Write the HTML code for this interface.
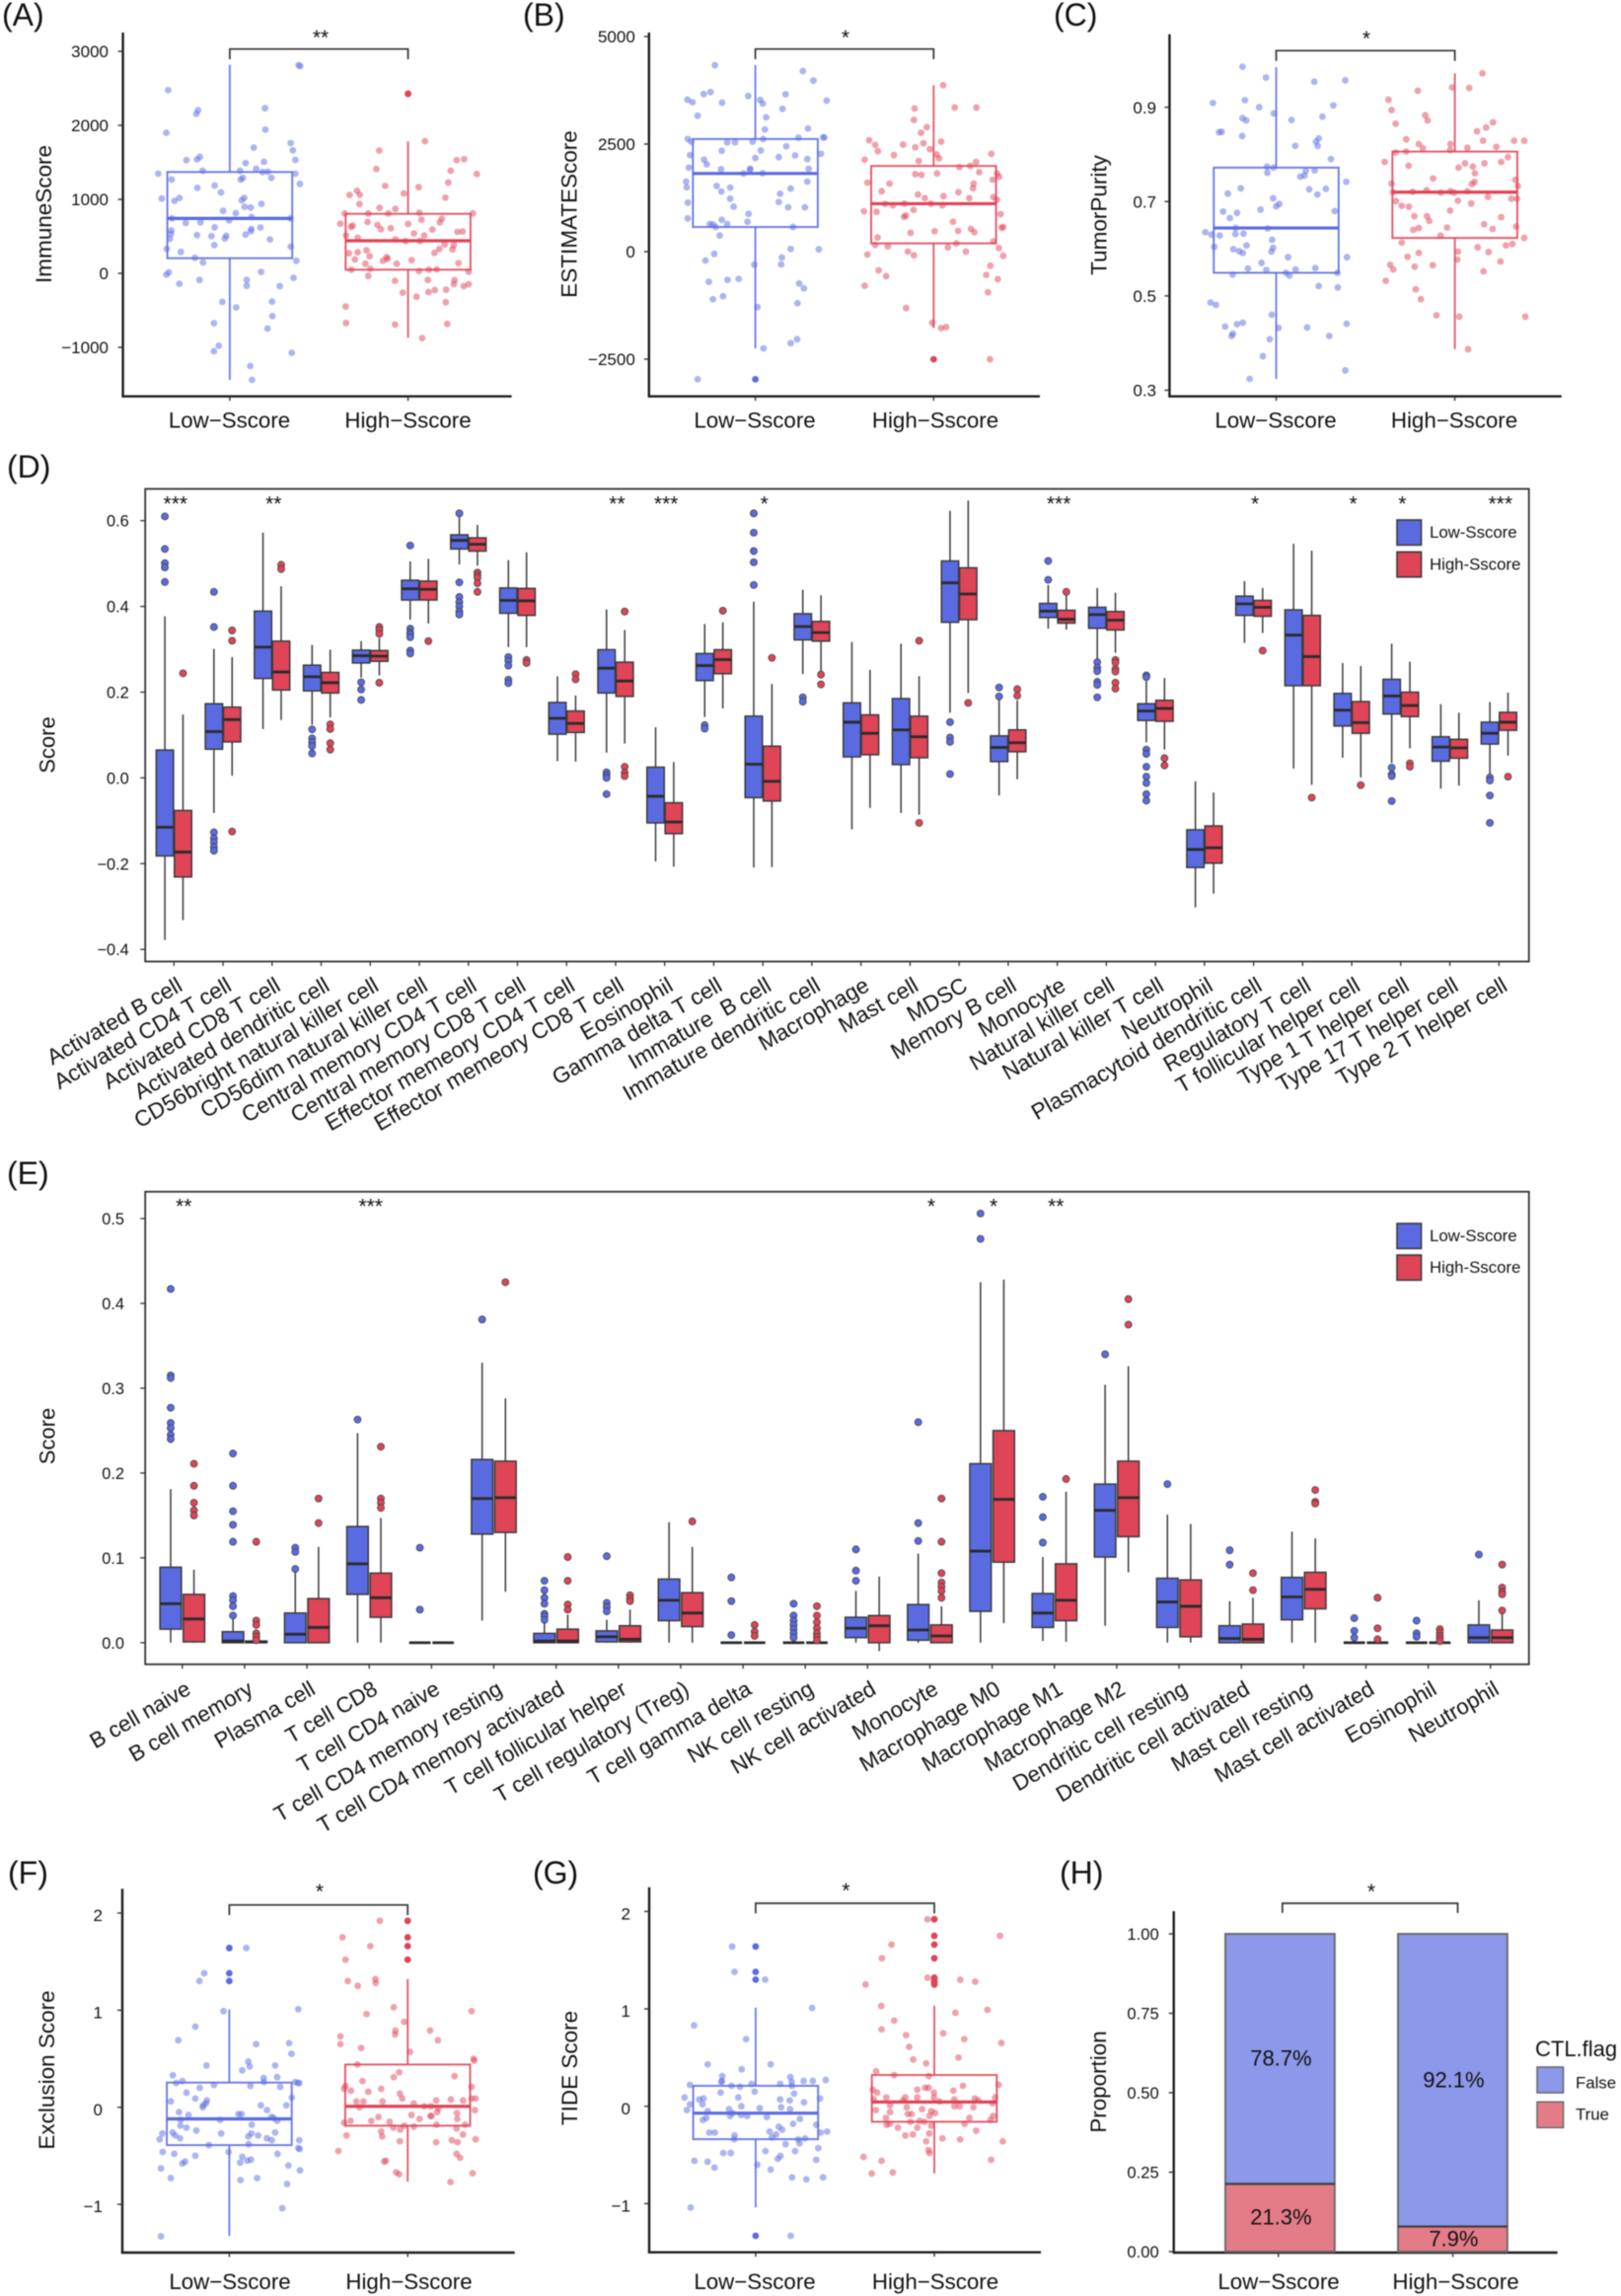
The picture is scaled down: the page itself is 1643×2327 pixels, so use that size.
<!DOCTYPE html>
<html lang="en">
<head>
<meta charset="utf-8">
<title>Immune score comparison panels</title>
<style>
html,body{margin:0;padding:0;background:#fff}
svg{display:block;filter:blur(0.4px)}
text{font-family:"Liberation Sans",sans-serif;fill:#111;white-space:pre}
</style>
</head>
<body>
<svg id="figure" xmlns="http://www.w3.org/2000/svg" width="1643" height="2327" viewBox="0 0 1643 2327">
<rect x="0" y="0" width="1643" height="2327" fill="#fff"/>
<text x="2" y="26" font-size="32">(A)</text>
<text x="530" y="26" font-size="32">(B)</text>
<text x="1068" y="26" font-size="32">(C)</text>
<text x="7" y="484" font-size="32">(D)</text>
<text x="7" y="1200" font-size="32">(E)</text>
<text x="8" y="1909" font-size="32">(F)</text>
<text x="540" y="1909" font-size="32">(G)</text>
<text x="1074" y="1909" font-size="32">(H)</text>
<g id="panel-a"></g>
<g id="panel-b"></g>
<g id="panel-c"></g>
<g id="panel-d"></g>
<g id="panel-e"></g>
<g id="panel-f"></g>
<g id="panel-g"></g>
<g id="panel-h"></g>
</svg>
<script>
const groupNames = ['Low\u2212Sscore','High\u2212Sscore'];

/* ---------- Panel A ---------- */
const aTicks = [3000,2000,1000,0,-1000];
const aTickLabels = ['3000','2000','1000','0','\u22121000'];
const aLowValues = [2475,2204,2155,2231,1898,1942,1698,1760,1662,2813,2800,1573,1538,1529,1533,1507,1489,1387,1387,1413,1369,1373,1347,1347,1267,1289,1267,1289,1209,1187,1155,1093,1009,978,1018,1018,987,938,898,889,844,813,742,760,742,715,680,689,622,618,600,569,578,533,467,516,502,507,471,524,458,382,360,329,289,209,147,169,13,-18,18,-142,-89,-89,-169,-62,-173,-387,-382,-462,-578,-675,-747,-978,-1053,-1075,-1253,-1440];
const aLowJitter = [-175,-90,-95,100,-180,101,68,173,179,195,200,-85,-93,-123,186,97,45,-77,29,75,93,108,186,-203,-165,37,31,118,199,-43,-92,-25,-193,-157,-143,41,34,90,42,59,-19,17,-164,62,172,-2,-125,-83,-43,87,61,60,-166,-167,-170,-93,-52,-10,-14,45,114,-44,173,-179,-139,-99,-76,189,-173,-180,89,-143,-86,48,48,181,142,-21,120,18,121,-45,107,-31,-45,176,58,63];
const aHighValues = [2426,1787,1658,1409,1529,1542,1387,1342,1227,1182,1164,1115,1058,1062,1080,1022,938,884,871,809,809,809,818,809,724,738,693,689,671,667,644,627,653,596,609,591,538,511,560,564,511,480,458,436,436,329,391,382,311,324,271,284,276,231,218,196,169,187,178,129,129,138,62,49,31,49,53,22,-36,-102,-89,-93,-147,-147,-173,-222,-227,-253,-262,-316,-391,-449,-671,-693,-684,-875];
const aHighJitter = [0,48,-82,-90,138,159,121,195,114,-65,30,-145,-166,-137,-12,106,-138,-81,-36,-180,-113,-56,32,184,38,96,-115,90,-192,0,-157,-162,-87,-77,-49,69,17,46,140,155,-176,-143,-36,-7,34,89,104,130,-118,126,-168,-143,75,-109,-61,-58,-71,-151,10,-121,-32,143,-107,-161,31,59,81,172,-113,-37,56,132,130,172,158,108,76,58,-15,24,107,-177,-176,-37,111,40];
const aLowBox = [2817,1369,742,204,-1440];
const aHighBox = [1782,804,440,49,-871];
const aLowOutliers = [];
const aHighOutliers = [2426];

/* ---------- Panel B ---------- */
const bTicks = [5000,2500,0,-2500];
const bTickLabels = ['5000','2500','0','\u22122500'];
const bLowValues = [4334,4197,3975,3708,3662,3655,3617,3533,3472,3525,3441,3464,3510,3319,3159,3121,2838,2861,2617,2556,2541,2541,2556,2617,2648,2655,2655,2449,2342,2350,2243,2197,2236,2274,2175,2136,2152,2030,1953,1915,1930,1900,1923,1816,1824,1625,1625,1495,1526,1488,1465,1396,1343,1228,1137,1152,1045,1030,1030,877,771,740,694,641,626,641,572,572,374,61,53,-53,-137,-206,-305,-298,-656,-633,-702,-740,-855,-1038,-1106,-1198,-1289,-2037,-2129,-2251,-2968];
const bLowJitter = [-119,140,171,-132,-152,89,-21,-200,-185,14,22,-98,210,80,-170,32,28,155,-199,-189,-83,-60,-8,23,127,200,203,91,-99,16,-192,69,117,193,0,-151,153,-143,-196,-101,-15,-16,157,-35,21,-204,153,-202,-114,-74,104,-100,73,-74,-199,69,-64,97,146,-20,-199,-99,-23,-134,-125,-83,-117,111,-105,104,187,-121,78,-147,-3,76,-82,-49,-137,129,143,-95,-125,124,6,123,104,24,-170];
const bHighValues = [3868,3350,3350,3327,3060,2892,2762,2587,2480,2487,2518,2556,2426,2381,2335,2243,2274,2258,2167,2136,2106,2083,1991,1961,1846,1801,1785,1816,1816,1740,1671,1602,1579,1579,1473,1404,1381,1328,1244,1289,1244,1267,1206,1106,1076,1114,1114,1076,969,938,923,870,839,809,694,526,481,557,572,435,473,450,328,237,153,122,99,191,84,0,0,-69,-84,-99,-328,-435,-572,-542,-641,-794,-946,-1312,-1656,-1755,-1778,-2503];
const bHighJitter = [28,62,126,-56,-58,-20,-37,-190,-172,-90,-30,22,-54,-11,-164,-117,170,9,16,-203,-44,125,108,76,134,-54,-36,10,187,193,174,-195,-130,118,116,-153,73,-46,-26,29,105,176,187,-143,-120,-86,-8,26,-59,-205,-168,197,-82,-87,57,110,72,200,205,-68,3,120,-165,176,-172,-135,42,67,192,-76,95,-195,-58,205,167,-162,-140,155,189,-203,160,-81,-4,37,22,166];
const bLowBox = [4334,2617,1816,572,-2251];
const bHighBox = [3868,1991,1114,191,-1778];
const bLowOutliers = [-2968];
const bHighOutliers = [-2503];

/* ---------- Panel C ---------- */
const cTicks = [0.9,0.7,0.5,0.3];
const cTickLabels = ['0.9','0.7','0.5','0.3'];
const cLowValues = [.986,.963,.954,.957,.915,.909,.900,.904,.887,.877,.872,.880,.873,.847,.848,.839,.834,.827,.818,.818,.790,.774,.772,.765,.766,.761,.755,.753,.742,.728,.717,.726,.715,.727,.707,.695,.690,.683,.679,.676,.680,.665,.644,.643,.635,.630,.628,.631,.632,.619,.604,.607,.602,.599,.595,.591,.594,.582,.582,.570,.558,.555,.556,.559,.545,.549,.543,.549,.521,.518,.486,.481,.460,.443,.440,.435,.441,.432,.433,.420,.415,.415,.408,.372,.342,.324];
const cLowJitter = [-99,-30,112,203,-92,-186,-50,168,-7,-99,-88,136,45,-168,-160,-100,125,117,122,56,161,-27,-8,87,113,-26,83,71,206,-104,-142,97,121,146,-9,9,0,-46,-156,-115,172,-136,-119,-25,-208,-190,-166,-120,-96,-12,-182,-87,-9,-126,-109,-98,-14,35,208,-43,-83,-29,57,115,-128,29,39,180,125,181,-193,-177,-13,-98,-115,-150,207,7,91,-127,-131,156,-19,-39,203,-78];
const cHighValues = [.972,.935,.942,.941,.916,.894,.865,.883,.872,.868,.857,.849,.832,.829,.829,.829,.822,.822,.813,.809,.814,.816,.804,.806,.784,.776,.772,.781,.774,.781,.784,.794,.760,.749,.742,.737,.746,.738,.733,.720,.721,.724,.719,.722,.719,.722,.710,.701,.702,.706,.706,.696,.691,.689,.681,.669,.669,.659,.667,.652,.642,.647,.640,.644,.645,.628,.623,.613,.610,.607,.603,.593,.594,.591,.583,.577,.573,.566,.556,.562,.565,.552,.532,.514,.493,.459,.456,.456,.387];
const cHighJitter = [81,-109,-8,42,-195,-186,-174,-87,-80,112,92,65,-143,83,174,204,-106,-13,-94,-14,37,122,-174,-143,-206,-136,11,30,53,87,136,156,59,-64,58,50,178,-186,185,-182,-124,-83,-41,-13,-2,37,97,-173,9,166,183,48,-156,-135,-14,-119,-82,-75,136,86,111,180,-122,-106,-23,-42,204,-156,169,150,67,99,9,-106,-139,7,134,-190,-181,-118,-65,84,-203,-115,-100,-54,13,207,39];
const cLowBox = [.985,.772,.644,.549,.324];
const cHighBox = [.972,.806,.720,.623,.387];
const cLowOutliers = [];
const cHighOutliers = [];

/* ---------- Panel F ---------- */
const fTicks = [2,1,0,-1];
const fTickLabels = ['2','1','0','\u22121'];
const fLowValues = [1.64,1.38,1.30,.99,1.01,.83,.69,.65,.66,.55,.47,.43,.43,.42,.38,.33,.30,.31,.27,.25,.26,.26,.25,.25,.23,.22,.20,.21,.15,.10,.09,.07,.06,.04,.02,0,.02,.02,-.03,-.05,-.08,-.07,-.07,-.10,-.13,-.13,-.11,-.14,-.19,-.21,-.18,-.24,-.27,-.26,-.27,-.27,-.30,-.29,-.26,-.29,-.32,-.33,-.32,-.34,-.34,-.39,-.38,-.42,-.43,-.46,-.46,-.48,-.48,-.50,-.51,-.57,-.55,-.54,-.56,-.58,-.60,-.63,-.65,-.73,-.73,-.75,-.79,-1.04,-1.33];
const fLowJitter = [50,-74,-88,-17,203,-100,-150,79,176,183,56,-67,135,60,38,-166,101,141,-138,-156,102,194,202,206,-45,62,-87,150,-126,184,-100,-66,-172,-69,-77,-78,93,168,111,-148,-120,27,36,124,-143,-27,131,141,-144,-126,66,-97,-197,-167,-24,65,56,85,135,-159,-145,-205,111,125,206,-60,57,203,207,-196,-2,-162,142,-100,38,32,53,64,-130,-138,174,-201,208,-172,82,33,170,156,-201];
const fHighValues = [1.92,1.75,1.66,1.52,1.30,1.32,1.28,1.25,1.03,.96,.99,.88,.79,.75,.79,.73,.65,.69,.61,.57,.50,.48,.44,.31,.36,.32,.27,.22,.19,.17,.16,.19,.14,.21,.09,.06,.06,.06,.04,.07,.08,.07,.09,.09,0,.01,.01,-.01,-.05,-.06,-.03,-.10,-.08,-.09,-.09,-.12,-.12,-.16,-.14,-.14,-.15,-.18,-.18,-.21,-.23,-.19,-.20,-.22,-.25,-.30,-.29,-.28,-.35,-.36,-.34,-.36,-.33,-.45,-.48,-.52,-.56,-.55,-.67,-.69,-.68,-.77];
const fHighJitter = [-82,-192,-110,-183,-176,-95,-94,-147,-41,-121,188,-10,-36,-37,66,-198,-198,89,-137,7,194,196,-148,-41,-25,138,-133,-183,-187,-167,-116,-78,-23,188,-16,-151,-130,-74,18,84,127,163,188,200,-142,49,68,90,87,145,198,-86,11,67,70,35,146,-187,-168,-107,-53,85,169,-42,-22,-10,18,144,-78,-75,-180,163,-23,84,130,147,200,-204,144,154,-69,-64,-34,-25,191,126];
const fLowBox = [1.007,.254,-.12,-.39,-1.325];
const fHighBox = [1.32,.44,.01,-.19,-.766];
const fLowOutliers = [1.64,1.38,1.30];
const fHighOutliers = [1.92,1.75,1.66,1.52];

/* ---------- Panel G ---------- */
const gTicks = [2,1,0,-1];
const gTickLabels = ['2','1','0','\u22121'];
const gLowValues = [1.64,1.38,1.30,1.01,.83,.69,.43,.43,.38,.31,.30,.26,.25,.25,.26,.26,.27,.22,.23,.23,.21,.20,.21,.13,.14,.15,.09,.09,.07,.08,.07,.06,.04,.08,.02,.02,0,-.01,-.02,-.04,-.05,-.03,-.03,-.07,-.09,-.10,-.10,-.11,-.12,-.14,-.13,-.18,-.19,-.21,-.27,-.27,-.24,-.26,-.27,-.26,-.30,-.29,-.32,-.34,-.34,-.33,-.38,-.39,-.43,-.48,-.48,-.46,-.46,-.51,-.54,-.56,-.57,-.55,-.63,-.60,-.65,-.73,-.73,-.75,-1.04,-1.33];
const gLowJitter = [-69,-62,28,166,-181,-28,-141,44,-41,-98,102,-99,-101,106,141,168,206,-193,-12,72,-71,-46,106,113,-103,-3,-209,-51,-166,-153,72,100,142,189,-193,-156,-42,75,12,-202,-141,-78,101,-68,-43,-25,-75,33,-145,-155,130,110,178,68,-136,-120,78,41,191,210,-62,60,48,-63,125,145,129,88,184,-95,-73,29,116,73,65,-180,-141,178,-121,5,44,107,198,149,-191,103];
const gHighValues = [1.92,1.75,1.66,1.52,1.32,1.30,1.28,1.25,1.03,.99,.96,.88,.79,.75,.73,.69,.65,.61,.50,.48,.44,.36,.32,.31,.22,.21,.17,.14,.17,.19,.19,.16,.14,.09,.09,.09,.09,.09,.06,.05,.07,.08,.06,.07,-.01,.01,0,0,-.01,.03,-.03,-.04,-.06,-.07,-.05,-.08,-.08,-.10,-.12,-.12,-.10,-.14,-.16,-.15,-.16,-.19,-.18,-.18,-.20,-.22,-.22,-.25,-.28,-.30,-.29,-.33,-.34,-.36,-.36,-.45,-.48,-.52,-.56,-.55,-.69,-.68];
const gHighJitter = [-20,193,-126,-154,-20,76,120,-202,-156,156,62,-118,-155,26,-83,88,197,-74,71,-62,-24,-171,-118,-16,189,84,-181,-168,-50,-27,-17,56,-1,-141,-85,-50,-1,179,-92,15,59,119,129,-178,-81,-130,59,74,115,171,-36,-172,-130,2,-9,-78,-67,-14,-142,103,173,165,-70,-43,-29,-140,-131,89,-9,-107,-50,123,-15,-85,-63,24,76,-24,201,-17,-14,-208,-155,167,-184,-122];
const gLowBox = [1.012,.21,-.071,-.338,-1.039];
const gHighBox = [1.032,.321,.044,-.159,-.69];
const gLowOutliers = [1.64,1.38,1.30,-1.33];
const gHighOutliers = [1.92,1.75,1.66,1.52,1.32,1.30,1.28,1.27,1.25];

/* ---------- Panel D ---------- */
const dCategories = ['Activated B cell','Activated CD4 T cell','Activated CD8 T cell','Activated dendritic cell','CD56bright natural killer cell','CD56dim natural killer cell','Central memory CD4 T cell','Central memory CD8 T cell','Effector memeory CD4 T cell','Effector memeory CD8 T cell','Eosinophil','Gamma delta T cell','Immature  B cell','Immature dendritic cell','Macrophage','Mast cell','MDSC','Memory B cell','Monocyte','Natural killer cell','Natural killer T cell','Neutrophil','Plasmacytoid dendritic cell','Regulatory T cell','T follicular helper cell','Type 1 T helper cell','Type 17 T helper cell','Type 2 T helper cell'];
const dTicks = [0.6,0.4,0.2,0,-0.2,-0.4];
const dTickLabels = ['0.6','0.4','0.2','0.0','\u22120.2','\u22120.4'];
const dStars = ['***','','**','','','','','','','**','***','','*','','','','','','***','','','','*','','*','*','','***'];
/* each row: upper whisker, q3, median, q1, lower whisker */
const dLowStats = [[.377,.065,-.115,-.182,-.378],[.301,.173,.108,.067,-.082],[.572,.389,.305,.232,.114],[.310,.263,.236,.203,.124],[.319,.298,.285,.268,.234],[.505,.461,.441,.415,.369],[.608,.567,.554,.534,.498],[.508,.443,.414,.384,.305],[.237,.176,.139,.102,.039],[.393,.299,.256,.198,.059],[.118,.025,-.043,-.105,-.195],[.359,.290,.262,.227,.142],[.411,.144,.032,-.046,-.209],[.439,.383,.353,.322,.242],[.317,.175,.130,.049,-.120],[.313,.185,.112,.031,-.082],[.623,.506,.455,.363,.152],[.182,.098,.071,.038,-.041],[.450,.407,.389,.374,.348],[.443,.398,.381,.349,.276],[.226,.173,.156,.134,.083],[-.008,-.121,-.167,-.209,-.302],[.459,.424,.406,.379,.315],[.546,.392,.333,.215,.022],[.268,.197,.158,.121,.047],[.313,.230,.191,.149,.035],[.172,.096,.072,.039,-.025],[.177,.130,.104,.079,.008]];
const dHighStats = [[.148,-.076,-.173,-.231,-.332],[.282,.165,.136,.084,.005],[.447,.319,.247,.205,.135],[.299,.246,.222,.198,.141],[.326,.297,.284,.272,.239],[.511,.459,.440,.415,.360],[.590,.560,.545,.529,.495],[.526,.442,.413,.379,.305],[.192,.156,.127,.106,.038],[.345,.270,.226,.190,.080],[.037,-.058,-.103,-.130,-.207],[.363,.299,.276,.243,.162],[.219,.074,-.008,-.054,-.208],[.426,.365,.339,.319,.249],[.252,.147,.104,.054,-.070],[.237,.144,.096,.047,-.086],[.647,.490,.429,.369,.198],[.181,.112,.082,.061,-.003],[.426,.391,.370,.361,.346],[.432,.388,.368,.345,.292],[.233,.181,.162,.132,.066],[-.034,-.112,-.163,-.199,-.270],[.443,.414,.398,.377,.338],[.530,.379,.283,.215,-.016],[.261,.178,.129,.104,.001],[.271,.200,.169,.143,.069],[.152,.090,.070,.046,-.018],[.199,.153,.130,.111,.052]];
const dLowOutliers = [[.610,.534,.501,.491,.457],[.434,.352,-.127,-.141,-.150,-.161,-.170],[],[.113,.092,.083,.074,.057],[.223,.206,.182],[.542,.348,.339,.335,.328,.297,.290],[.617,.456,.422,.410,.400,.388,.381],[.282,.273,.262,.229,.221],[],[.013,.006,0,-.038],[],[.123,.115],[.617,.572,.529,.503,.450],[.188,.178],[],[],[.130,.094,.084,.009],[.211,.190],[.506,.462],[.270,.257,.249,.224,.217,.188],[.239,.235,.066,.056,.026,.003,-.012,-.038,-.053],[],[],[],[],[.024,.008,.004,-.054],[],[.001,-.006,-.041,-.105]];
const dHighOutliers = [[.244],[.344,.320,-.125],[.497,.487],[.125,.114,.081,.066],[.352,.345,.336,.222],[.319],[.479,.473,.467,.454,.434],[.275,.268],[.242,.230],[.388,.026,.012,.004],[],[.390],[.280],[.241,.218],[],[.320,-.105],[.175],[.207,.192],[.434],[.275,.269,.254,.248,.222,.208],[.046,.029],[],[.297],[-.046],[-.017],[.034,.026],[],[.003]];

/* ---------- Panel E ---------- */
const eCategories = ['B cell naive','B cell memory','Plasma cell','T cell CD8','T cell CD4 naive','T cell CD4 memory resting','T cell CD4 memory activated','T cell follicular helper','T cell regulatory (Treg)','T cell gamma delta','NK cell resting','NK cell activated','Monocyte','Macrophage M0','Macrophage M1','Macrophage M2','Dendritic cell resting','Dendritic cell activated','Mast cell resting','Mast cell activated','Eosinophil','Neutrophil'];
const eTicks = [0.5,0.4,0.3,0.2,0.1,0];
const eTickLabels = ['0.5','0.4','0.3','0.2','0.1','0.0'];
const eStars = ['**','','','***','','','','','','','','','*','*','**','','','','','','',''];
const eLowStats = [[.181,.089,.046,.016,0],[.029,.013,.002,0,0],[.084,.035,.010,0,0],[.247,.137,.093,.057,0],[0,0,0,0,0],[.330,.216,.170,.128,.026],[.026,.011,.002,0,0],[.027,.014,.007,.001,0],[.142,.075,.050,.026,0],[0,0,0,0,0],[0,0,0,0,0],[.061,.030,.017,.006,0],[.105,.045,.015,.003,0],[.425,.211,.108,.037,0],[.101,.058,.035,.018,.002],[.304,.187,.156,.101,.020],[.151,.076,.048,.018,0],[.049,.020,.005,0,0],[.131,.077,.054,.027,0],[0,0,0,0,0],[0,0,0,0,0],[.050,.021,.006,0,0]];
const eHighStats = [[.086,.057,.028,.001,0],[.002,.002,.001,0,0],[.113,.052,.018,0,0],[.147,.082,.053,.030,0],[0,0,0,0,0],[.288,.214,.171,.130,.060],[.033,.016,.002,0,0],[.039,.020,.004,.001,0],[.113,.059,.035,.019,0],[0,0,0,0,0],[0,0,0,0,0],[.078,.032,.020,0,-.010],[.043,.021,.008,0,0],[.428,.250,.169,.095,.023],[.178,.093,.050,.026,.001],[.326,.214,.171,.125,.083],[.140,.074,.043,.007,0],[.053,.022,.004,0,0],[.123,.083,.063,.040,0],[0,0,0,0,0],[0,0,0,0,0],[.035,.015,.006,0,0]];
const eLowOutliers = [[.417,.315,.312,.277,.259,.253,.245,.240],[.223,.185,.155,.139,.119,.055,.050,.043,.032],[.112,.107,.087],[.263],[.112,.039],[.381],[.073,.062,.053,.046,.034,.031,.027],[.102,.047,.042,.037],[],[.077,.049,.009],[.046,.032,.026,.021,.016,.011,.006],[.110,.085,.073],[.260,.141,.120],[.506,.476],[.172,.148,.118],[.340],[.187],[.109,.092],[],[.029,.014,.006],[.026,.011,.007],[.104]];
const eHighOutliers = [[.211,.185,.165,.156,.150],[.119,.026,.021,.011,.007,.003],[.170,.141],[.231,.170,.165,.159],[],[.425],[.101,.073,.045,.039],[.056,.052,.049],[.143],[.021,.013,.008],[.043,.032,.024,.017,.011,.007,.003],[],[.170,.119,.082,.071,.066,.061,.053],[],[.193],[.405,.375],[],[.082,.062],[.180,.166,.164],[.053,.017,.004],[.016,.012,.008,.005,.002],[.092,.065,.060,.057,.038]];

/* ---------- Panel H ---------- */
const hTicks = [1,0.75,0.5,0.25,0];
const hTickLabels = ['1.00','0.75','0.50','0.25','0.00'];
const hFalseShare = [0.787,0.921];
const hTrueShare = [0.213,0.079];
const hFalseText = ['78.7%','92.1%'];
const hTrueText = ['21.3%','7.9%'];

/* ---------- helpers ---------- */
const NS = 'http://www.w3.org/2000/svg';
const BLUE = '#5A6BE2', RED = '#DF4457', DARK = '#3a3a3a';
function make(tag, parent, geom) {
  const el = document.createElementNS(NS, tag);
  for (const k in geom) el.setAttribute(k, geom[k]);
  parent.appendChild(el);
  return el;
}
function linear(d0, r0, d1, r1) {
  return v => r0 + (v - d0) * (r1 - r0) / (d1 - d0);
}
function drawText(parent, str, x, y, size, anchor, rot, name) {
  const t = make('text', parent, {x: x, y: y, 'font-size': size, 'text-anchor': anchor});
  if (rot) t.setAttribute('transform', 'rotate(' + rot + ' ' + x + ' ' + y + ')');
  t.textContent = str;
  
  
  return t;
}
function drawLine(parent, x1, y1, x2, y2, color, w, name) {
  const l = make('line', parent, {x1: x1, y1: y1, x2: x2, y2: y2, stroke: color, 'stroke-width': w});
  
  
  return l;
}
function drawBracket(parent, x0, x1, y, end, star, starX, starY) {
  const p = make('path', parent, {d: 'M' + x0 + ' ' + end + 'V' + y + 'H' + x1 + 'V' + end, fill: 'none', stroke: '#333', 'stroke-width': 1.7});
  
  
  drawText(parent, star, starX, starY + 12, 21, 'middle', 0, 'significance-stars');
}
function drawLeftAxis(parent, axisX, top, bottom, right, yScale, ticks, labels, gap, dy, tickSize) {
  drawLine(parent, axisX, top, axisX, bottom, '#1c1c1c', 2.4, 'y-axis-line');
  drawLine(parent, axisX - 1.2, bottom, right, bottom, '#1c1c1c', 2.4, 'x-axis-line');
  ticks.forEach((v, i) => {
    const y = yScale(v);
    drawLine(parent, axisX - 5, y, axisX, y, '#333', 1.4, 'y-tick');
    drawText(parent, labels[i], axisX - gap, y + dy + tickSize * 0.36, tickSize, 'end', 0, 'y-tick-label');
  });
}
function drawScatterPanel(cfg) {
  const g = document.getElementById(cfg.id);
  const y = linear(cfg.d0, cfg.r0, cfg.d1, cfg.r1);
  drawLeftAxis(g, cfg.axisX, cfg.top, cfg.bottom, cfg.right, y, cfg.ticks, cfg.tickLabels, cfg.gap, cfg.dy, 17);
  drawText(g, cfg.title, cfg.titleX, cfg.titleY, 22.5, 'middle', -90, 'y-axis-title');
  const unit = (cfg.cats[1] - cfg.cats[0]) / cfg.jitterSpan;
  [0, 1].forEach(s => {
    const color = s ? RED : BLUE;
    const cx = cfg.cats[s];
    const gs = make('g', g, {});
    
    
    cfg.values[s].forEach((v, i) => {
      const c = make('circle', gs, {cx: cx + cfg.jitter[s][i] * unit, cy: y(v), r: 3.4, fill: color, 'fill-opacity': 0.5});
      
      
    });
    const b = cfg.boxes[s];
    drawLine(gs, cx, y(b[0]), cx, y(b[1]), color, 1.8, 'upper-whisker').setAttribute('stroke-opacity', .9);
    drawLine(gs, cx, y(b[3]), cx, y(b[4]), color, 1.8, 'lower-whisker').setAttribute('stroke-opacity', .9);
    const r = make('rect', gs, {x: cx - 63.3, y: y(b[1]), width: 126.6, height: y(b[3]) - y(b[1]), fill: 'none', stroke: color, 'stroke-width': 1.9, 'stroke-opacity': .9});
    
    
    drawLine(gs, cx - 63.3, y(b[2]), cx + 63.3, y(b[2]), color, 3.2, 'median-line');
    cfg.outliers[s].forEach(v => {
      const o = make('circle', gs, {cx: cx, cy: y(v), r: 3.4, fill: color});
      
      
    });
    drawLine(g, cx, cfg.bottom, cx, cfg.bottom + 4.5, '#333', 1.4, 'x-tick');
    drawText(g, groupNames[s], cfg.labelX[s], cfg.labelY, 22.3, 'middle', 0, 'x-tick-label');
  });
  drawBracket(g, cfg.cats[0], cfg.cats[1], cfg.brY, cfg.brEnd, cfg.star, cfg.starX, cfg.starY);
}
function drawBoxPanel(cfg) {
  const g = document.getElementById(cfg.id);
  const y = linear(cfg.d0, cfg.r0, cfg.d1, cfg.r1);
  const x = i => cfg.first + i * cfg.gap;
  const frame = make('rect', g, {x: cfg.left, y: cfg.top, width: cfg.right - cfg.left, height: cfg.bottom - cfg.top, fill: 'none', stroke: '#333', 'stroke-width': 1.8});
  
  
  cfg.ticks.forEach((v, i) => {
    drawLine(g, cfg.left - 5, y(v), cfg.left, y(v), '#333', 1.3, 'y-tick');
    drawText(g, cfg.tickLabels[i], cfg.tickRight, y(v) + 6, 16.4, 'end', 0, 'y-tick-label');
  });
  drawText(g, 'Score', 55.6, cfg.titleY, 22, 'middle', -90, 'y-axis-title');
  cfg.categories.forEach((name, i) => {
    const cx = x(i);
    drawLine(g, cx, cfg.bottom, cx, cfg.bottom + 4.5, '#333', 1.3, 'x-tick');
    drawText(g, name, cx + 10, cfg.labelY, cfg.labelSize, 'end', -30, 'x-tick-label');
    if (cfg.stars[i]) drawText(g, cfg.stars[i], cx + 1.5, cfg.starY + 12, 21, 'middle', 0, 'significance-stars');
    [0, 1].forEach(s => {
      const color = s ? RED : BLUE;
      const stat = (s ? cfg.high : cfg.low)[i];
      const out = (s ? cfg.highOut : cfg.lowOut)[i];
      const c = cx + (s ? cfg.off : -cfg.off);
      drawLine(g, c, y(stat[0]), c, y(stat[4]), DARK, 1.5, 'whisker');
      const r = make('rect', g, {x: c - cfg.bw / 2, y: y(stat[1]), width: cfg.bw, height: Math.max(y(stat[3]) - y(stat[1]), 0), fill: color, stroke: DARK, 'stroke-width': 1.5});
      
      
      drawLine(g, c - cfg.bw / 2, y(stat[2]), c + cfg.bw / 2, y(stat[2]), '#2b2b2b', 2.8, 'median-line');
      out.forEach(v => {
        const o = make('circle', g, {cx: c, cy: y(v), r: 3.5, fill: color, stroke: '#444', 'stroke-width': .8});
        
        
      });
    });
  });
  [['Low-Sscore', BLUE, 0], ['High-Sscore', RED, 1]].forEach(e => {
    const top = cfg.legendY[e[2]];
    const sw = make('rect', g, {x: 1416, y: top, width: 24.5, height: 25.4, fill: e[1], stroke: DARK, 'stroke-width': 1.6});
    
    
    drawText(g, e[0], 1449, top + 18, 16.8, 'start', 0, 'legend-label');
  });
}

/* ---------- scatter panels ---------- */
drawScatterPanel({id:'panel-a',title:'ImmuneScore',titleX:52,titleY:217,d0:0,r0:277,d1:1000,r1:202,ticks:aTicks,tickLabels:aTickLabels,axisX:124.6,top:33,bottom:401.7,right:518.6,gap:14.6,dy:0,cats:[232.9,413.6],jitterSpan:506,values:[aLowValues,aHighValues],jitter:[aLowJitter,aHighJitter],boxes:[aLowBox,aHighBox],outliers:[aLowOutliers,aHighOutliers],labelX:[232.5,413.5],labelY:433.5,brY:49.7,brEnd:60,star:'**',starX:325,starY:33});
drawScatterPanel({id:'panel-b',title:'ESTIMATEScore',titleX:584.5,titleY:217,d0:0,r0:255,d1:2500,r1:146,ticks:bTicks,tickLabels:bTickLabels,axisX:657.8,top:33,bottom:401.7,right:1054,gap:14,dy:0,cats:[765.6,946.3],jitterSpan:525,values:[bLowValues,bHighValues],jitter:[bLowJitter,bHighJitter],boxes:[bLowBox,bHighBox],outliers:[bLowOutliers,bHighOutliers],labelX:[765,948],labelY:433.5,brY:49.7,brEnd:60,star:'*',starX:857,starY:33});
drawScatterPanel({id:'panel-c',title:'TumorPurity',titleX:1121.6,titleY:218,d0:0.7,r0:204.3,d1:0.9,r1:108.7,ticks:cTicks,tickLabels:cTickLabels,axisX:1185.4,top:34.7,bottom:401.7,right:1582.7,gap:13.4,dy:0,cats:[1293.5,1474.6],jitterSpan:525,values:[cLowValues,cHighValues],jitter:[cLowJitter,cHighJitter],boxes:[cLowBox,cHighBox],outliers:[cLowOutliers,cHighOutliers],labelX:[1293,1474],labelY:433.5,brY:51.3,brEnd:61.7,star:'*',starX:1385,starY:34});
drawScatterPanel({id:'panel-f',title:'Exclusion Score',titleX:55,titleY:2098,d0:0,r0:2135.7,d1:1,r1:2037.3,ticks:fTicks,tickLabels:fTickLabels,axisX:124,top:1914.3,bottom:2283,right:521.7,gap:20,dy:2,cats:[232.4,413.2],jitterSpan:525,values:[fLowValues,fHighValues],jitter:[fLowJitter,fHighJitter],boxes:[fLowBox,fHighBox],outliers:[fLowOutliers,fHighOutliers],labelX:[233,414.5],labelY:2320.2,brY:1930.7,brEnd:1941,star:'*',starX:324,starY:1912});
drawScatterPanel({id:'panel-g',title:'TIDE Score',titleX:584.8,titleY:2096,d0:0,r0:2134.7,d1:1,r1:2036,ticks:gTicks,tickLabels:gTickLabels,axisX:658,top:1912.7,bottom:2282.7,right:1055,gap:19,dy:2,cats:[765.9,947],jitterSpan:525,values:[gLowValues,gHighValues],jitter:[gLowJitter,gHighJitter],boxes:[gLowBox,gHighBox],outliers:[gLowOutliers,gHighOutliers],labelX:[765,948],labelY:2320.2,brY:1929,brEnd:1939.3,star:'*',starX:857.5,starY:1911});

/* ---------- box panels ---------- */
drawBoxPanel({id:'panel-d',categories:dCategories,ticks:dTicks,tickLabels:dTickLabels,stars:dStars,low:dLowStats,high:dHighStats,lowOut:dLowOutliers,highOut:dHighOutliers,d0:0,r0:788.4,d1:0.6,r1:527.7,left:147.2,right:1549.7,top:495.5,bottom:974.5,first:176.3,gap:49.74,off:9.2,bw:17.5,tickRight:130.8,titleY:755,labelY:1003,labelSize:22.5,starY:505.5,legendY:[527,559.4]});
drawBoxPanel({id:'panel-e',categories:eCategories,ticks:eTicks,tickLabels:eTickLabels,stars:eStars,low:eLowStats,high:eHighStats,lowOut:eLowOutliers,highOut:eHighOutliers,d0:0,r0:1664.9,d1:0.5,r1:1235,left:147.2,right:1549.7,top:1207.8,bottom:1686.8,first:184.8,gap:63.14,off:11.8,bw:21.7,tickRight:126,titleY:1455.5,labelY:1716,labelSize:22.2,starY:1217.5,legendY:[1240,1272]});

/* ---------- panel H ---------- */
(function () {
  const g = document.getElementById('panel-h');
  const y = linear(0, 2282, 1, 1960);
  const cats = [1295.7, 1472.6];
  const barLeft = [1242, 1417];
  const barWidth = 110.8;
  drawLeftAxis(g, 1189.7, 1937, 2283, 1578.6, y, hTicks, hTickLabels, 15, 0, 16.6);
  drawText(g, 'Proportion', 1121, 2110, 22.4, 'middle', -90, 'y-axis-title');
  cats.forEach((cx, i) => {
    const split = y(hTrueShare[i]);
    const top = y(hTrueShare[i] + hFalseShare[i]);
    const f = make('rect', g, {x: barLeft[i], y: top, width: barWidth, height: split - top, fill: '#8C98E9', stroke: '#6b6b6b', 'stroke-width': 2});
    
    
    const t = make('rect', g, {x: barLeft[i], y: split, width: barWidth, height: y(0) - split, fill: '#E47C88', stroke: '#6b6b6b', 'stroke-width': 2});
    
    
    drawLine(g, barLeft[i], split, barLeft[i] + barWidth, split, '#3c3c3c', 2.2, 'bar-divider');
    drawText(g, hFalseText[i], barLeft[i] + barWidth / 2 + 1, (top + split) / 2 + 7, 22, 'middle', 0, 'bar-percent-false');
    drawText(g, hTrueText[i], barLeft[i] + barWidth / 2 + 1, (split + y(0)) / 2 + 7, 22, 'middle', 0, 'bar-percent-true');
    drawLine(g, cx, 2283, cx, 2287.5, '#333', 1.4, 'x-tick');
    drawText(g, groupNames[i], i ? 1475.5 : 1296, 2320.2, 22.3, 'middle', 0, 'x-tick-label');
  });
  drawBracket(g, 1299.8, 1477.5, 1929, 1938.7, '*', 1390, 1912);
  drawText(g, 'CTL.flag', 1556, 2084, 22, 'start', 0, 'legend-title');
  [['False', '#8C98E9', 2095, 2116.7], ['True', '#E47C88', 2130.3, 2148.7]].forEach(e => {
    const sw = make('rect', g, {x: 1558, y: e[2], width: 26.5, height: 26, fill: e[1], stroke: '#6b6b6b', 'stroke-width': 1.6});
    
    
    drawText(g, e[0], 1597, e[3], 16.8, 'start', 0, 'legend-label');
  });
})();
</script>
</body>
</html>
